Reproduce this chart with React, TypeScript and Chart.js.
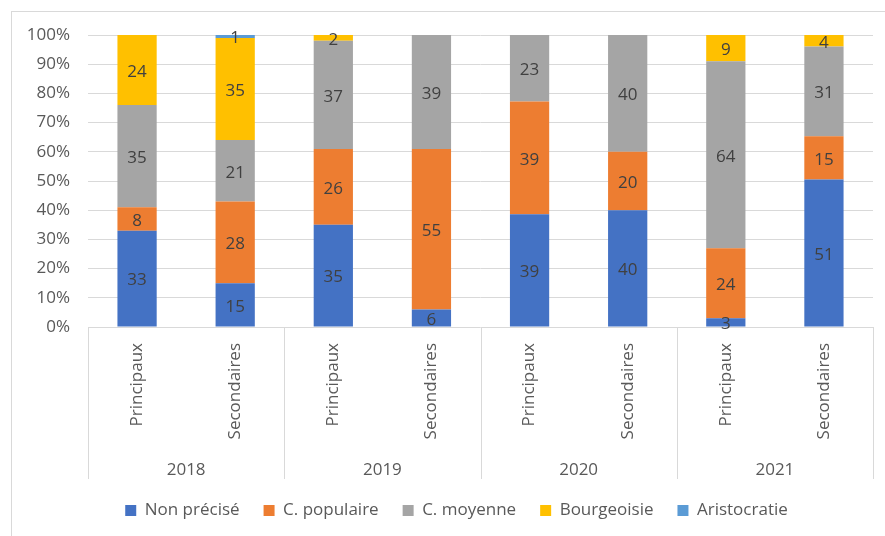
import React, { useEffect, useRef } from "react";
import { Chart, registerables } from "chart.js";

Chart.register(...registerables);

const years = ["2018", "2019", "2020", "2021"];
const categories = [
  "Principaux", "Secondaires",
  "Principaux", "Secondaires",
  "Principaux", "Secondaires",
  "Principaux", "Secondaires",
];
const nonPrecise = [33, 15, 35, 6, 39, 40, 3, 51];
const cPopulaire = [8, 28, 26, 55, 39, 20, 24, 15];
const cMoyenne = [35, 21, 37, 39, 23, 40, 64, 31];
const bourgeoisie = [24, 35, 2, 0, 0, 0, 9, 4];
const aristocratie = [0, 1, 0, 0, 0, 0, 0, 0];
const seriesNames = ["Non précisé", "C. populaire", "C. moyenne", "Bourgeoisie", "Aristocratie"];
const seriesColors = ["#4472C4", "#ED7D31", "#A5A5A5", "#FFC000", "#5B9BD5"];
const yMin = 0;
const yMax = 100;
const yStep = 10;

const FONT = "'Open Sans', sans-serif";
const TEXT = "#595959";
const GRID = "#d9d9d9";

const allSeries = [nonPrecise, cPopulaire, cMoyenne, bourgeoisie, aristocratie];
const totals = categories.map((_, i) => allSeries.reduce((s, arr) => s + arr[i], 0));

const dataLabelsPlugin = {
  id: "dataLabels",
  afterDatasetsDraw(chart: any) {
    const ctx = chart.ctx;
    ctx.save();
    ctx.font = `17px ${FONT}`;
    ctx.fillStyle = "#404040";
    ctx.textAlign = "center";
    ctx.textBaseline = "middle";
    chart.data.datasets.forEach((ds: any, di: number) => {
      const meta = chart.getDatasetMeta(di);
      meta.data.forEach((el: any, i: number) => {
        const v = ds.counts[i];
        if (!v) return;
        const y = (el.y + el.base) / 2;
        ctx.fillText(String(v), el.x, y + 2);
      });
    });
    ctx.restore();
  },
};

const separatorsPlugin = {
  id: "separators",
  afterLayout(chart: any) {
    if (chart.legend) {
      chart.legend.left += 20;
      chart.legend.right += 20;
    }
  },
  afterDraw(chart: any) {
    const ctx = chart.ctx;
    const area = chart.chartArea;
    const x2 = chart.scales.x2;
    const n = years.length;
    ctx.save();
    ctx.strokeStyle = GRID;
    ctx.lineWidth = 1;
    for (let i = 0; i <= n; i++) {
      const x = Math.round(area.left + (i * (area.right - area.left)) / n) + 0.5;
      ctx.beginPath();
      ctx.moveTo(x, area.bottom);
      ctx.lineTo(x, x2.bottom + 1);
      ctx.stroke();
    }
    ctx.restore();
  },
};

export default function App() {
  const ref = useRef<HTMLCanvasElement>(null);

  useEffect(() => {
    if (!ref.current) return;
    const chart = new Chart(ref.current, {
      type: "bar",
      data: {
        labels: categories,
        datasets: allSeries.map((arr, si) => ({
          label: seriesNames[si],
          data: arr.map((v, i) => (v / totals[i]) * 100),
          counts: arr,
          backgroundColor: seriesColors[si],
          borderWidth: 0,
          categoryPercentage: 1,
          barPercentage: 0.4,
        })) as any,
      },
      options: {
        responsive: false,
        animation: false,
        devicePixelRatio: 1,
        layout: { padding: { top: 35, right: 12, left: 0, bottom: 7 } },
        plugins: {
          legend: {
            position: "bottom",
            labels: {
              boxWidth: 11,
              boxHeight: 11,
              padding: 24,
              color: TEXT,
              font: { family: FONT, size: 17 },
            },
          },
          tooltip: { enabled: false },
        },
        scales: {
          x: {
            stacked: true,
            weight: 0,
            grid: { display: false },
            border: { display: false },
            ticks: {
              autoSkip: false,
              maxRotation: 90,
              minRotation: 90,
              padding: 8,
              color: TEXT,
              font: { family: FONT, size: 17 },
            },
            afterFit(s: any) {
              s.height = 125;
            },
          },
          x2: {
            type: "category",
            axis: "x",
            position: "bottom",
            labels: years,
            offset: true,
            weight: 1,
            grid: { display: false },
            border: { display: false },
            ticks: {
              padding: 0,
              color: TEXT,
              font: { family: FONT, size: 17 },
            },
            afterFit(s: any) {
              s.height = 26;
            },
          },
          y: {
            stacked: true,
            min: yMin,
            max: yMax,
            border: { display: false },
            grid: { color: GRID, drawTicks: false, lineWidth: 1 },
            ticks: {
              stepSize: yStep,
              padding: 18,
              color: TEXT,
              font: { family: FONT, size: 17 },
              callback: (v: any) => `${v}%`,
            },
            afterFit(s: any) {
              s.width = 88;
            },
          },
        } as any,
      },
      plugins: [dataLabelsPlugin, separatorsPlugin],
    });
    return () => chart.destroy();
  }, []);

  return (
    <div
      style={{
        position: "fixed",
        left: 0,
        top: 0,
        width: 885,
        height: 536,
        overflow: "hidden",
        background: "#ffffff",
      }}
    >
      <canvas ref={ref} width={885} height={536} style={{ display: "block" }} />
      <div
        style={{
          position: "absolute",
          left: 11,
          top: 11,
          width: 900,
          height: 600,
          borderLeft: `1px solid ${GRID}`,
          borderTop: `1px solid ${GRID}`,
          pointerEvents: "none",
        }}
      />
    </div>
  );
}
